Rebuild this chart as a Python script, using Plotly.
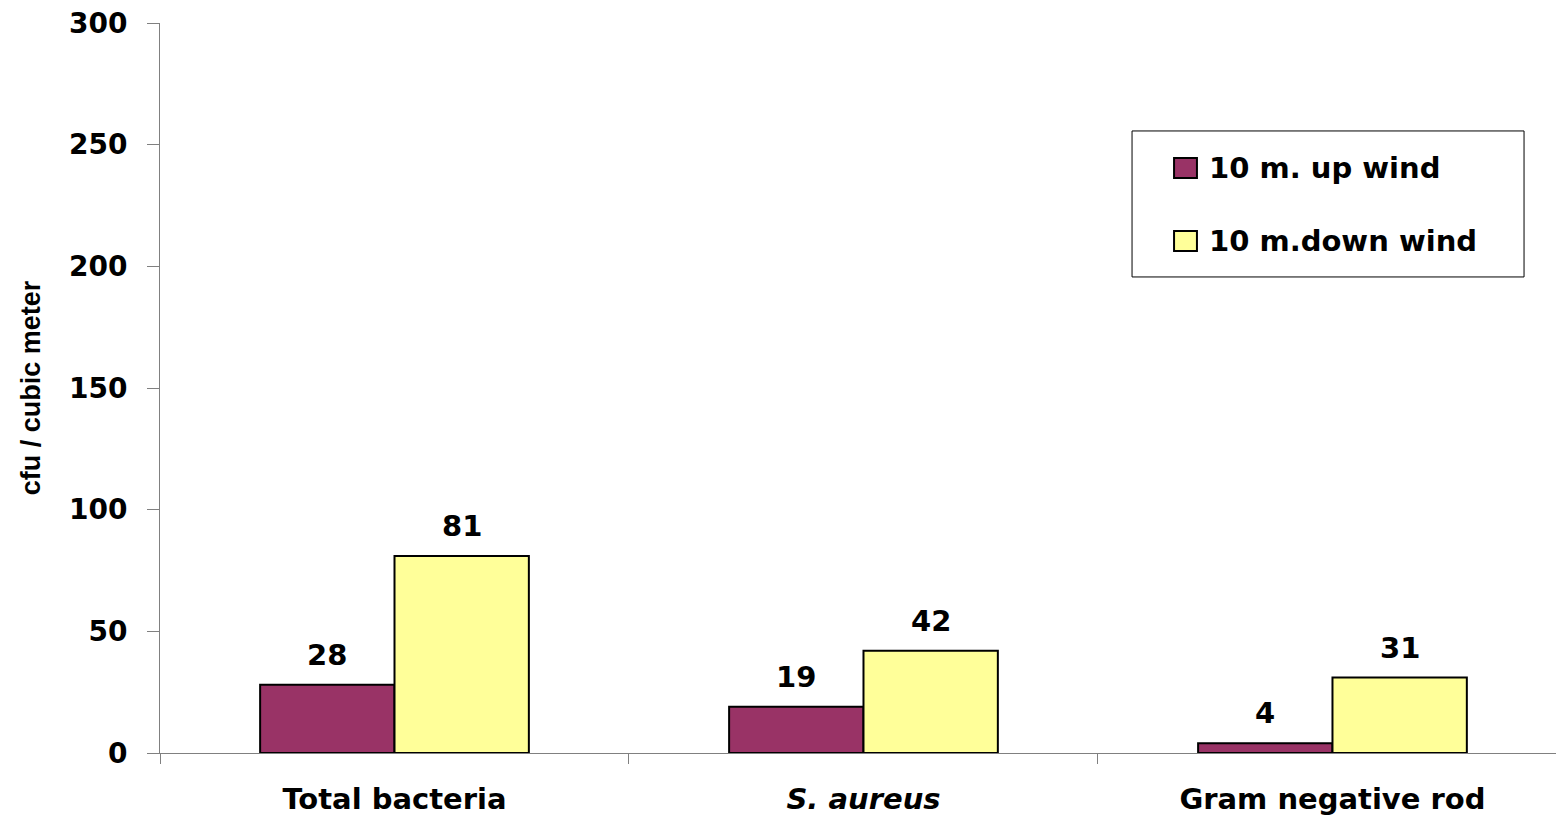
import plotly.graph_objects as go

# Airborne bacteria counts (cfu per cubic meter) at 10 m up wind / down wind
categories = ["Total bacteria", "<i>S. aureus</i>", "Gram negative rod"]
up_wind = [28, 19, 4]
down_wind = [81, 42, 31]
series_names = ["10 m. up wind", "10 m.down wind"]
y_ticks = [0, 50, 100, 150, 200, 250, 300]

UP_COLOR = "#993366"
DOWN_COLOR = "#FFFF99"
AXIS_GRAY = "#808080"
FONT = "DejaVu Sans"

BAR_GAP = 0.427
half_bar = (1 - BAR_GAP) / 4  # centre offset of each bar in a pair of two

x_pos = list(range(len(categories)))
series_colors = [UP_COLOR, DOWN_COLOR]

fig = go.Figure()
for name, values, color in zip(series_names, (up_wind, down_wind), series_colors):
    fig.add_trace(go.Bar(
        x=x_pos, y=values, name=name, showlegend=False,
        marker=dict(color=color, line=dict(color="black", width=2)),
    ))

# value labels above each bar
annotations = []
for values, sign in ((up_wind, -1), (down_wind, 1)):
    for xi, v in zip(x_pos, values):
        annotations.append(dict(
            x=xi + sign * half_bar, y=v, xref="x", yref="y",
            text=str(v), showarrow=False, yanchor="bottom", yshift=11,
            font=dict(family=FONT, size=29, color="black", weight="bold"),
        ))

# boxed legend: frame, colour swatches and series names (paper coordinates)
shapes = [dict(type="rect", xref="paper", yref="paper",
               x0=0.6963, x1=0.9771, y0=0.6521, y1=0.8521,
               line=dict(color="black", width=1), fillcolor="white", layer="above")]
legend_rows = [(0.8151, 0.7877, 0.8014), (0.7151, 0.6877, 0.7014)]
for (top, bottom, mid), name, color in zip(legend_rows, series_names, series_colors):
    shapes.append(dict(type="rect", xref="paper", yref="paper",
                       x0=0.7264, x1=0.7428, y0=bottom, y1=top,
                       line=dict(color="black", width=2), fillcolor=color,
                       layer="above"))
    annotations.append(dict(
        x=0.75, y=mid, xref="paper", yref="paper", xanchor="left",
        yanchor="middle", text=name, showarrow=False,
        font=dict(family=FONT, size=29, color="black", weight="bold"),
    ))

x_range = [-0.5, 2.4766]

# invisible trace so the category-label axis is drawn
fig.add_trace(go.Scatter(x=x_pos, y=[None] * len(x_pos), xaxis="x2",
                         showlegend=False, hoverinfo="skip"))

fig.update_layout(
    width=1556, height=817,
    margin=dict(l=160, r=0, t=23, b=64),
    paper_bgcolor="white", plot_bgcolor="white",
    barmode="group", bargap=BAR_GAP, bargroupgap=0,
    annotations=annotations, shapes=shapes,
    showlegend=False,
    xaxis=dict(
        range=x_range, tickmode="array", tickvals=[-0.5, 0.5, 1.5, 2.5],
        ticktext=["", "", "", ""], ticks="outside", ticklen=10,
        tickcolor=AXIS_GRAY, showline=True, linecolor=AXIS_GRAY, linewidth=1,
        showgrid=False, zeroline=False, automargin=False,
    ),
    xaxis2=dict(
        range=x_range, overlaying="x", anchor="y", side="bottom",
        tickmode="array", tickvals=x_pos, ticktext=categories,
        ticks="outside", ticklen=20, tickcolor="rgba(0,0,0,0)",
        showline=False, showgrid=False, zeroline=False, automargin=False,
        tickfont=dict(family=FONT, size=29, color="black", weight="bold"),
    ),
    yaxis=dict(
        range=[0, 300], tickmode="array", tickvals=y_ticks,
        ticks="outside", ticklen=12, tickcolor=AXIS_GRAY,
        showline=True, linecolor=AXIS_GRAY, linewidth=1,
        showgrid=False, zeroline=False, ticklabelstandoff=14, automargin=False,
        tickfont=dict(family=FONT, size=28, color="black", weight="bold"),
        title=dict(text="cfu / cubic meter", standoff=20,
                   font=dict(family="Liberation Sans", size=27,
                             color="black", weight="bold")),
    ),
)

fig.write_html("out.html")
